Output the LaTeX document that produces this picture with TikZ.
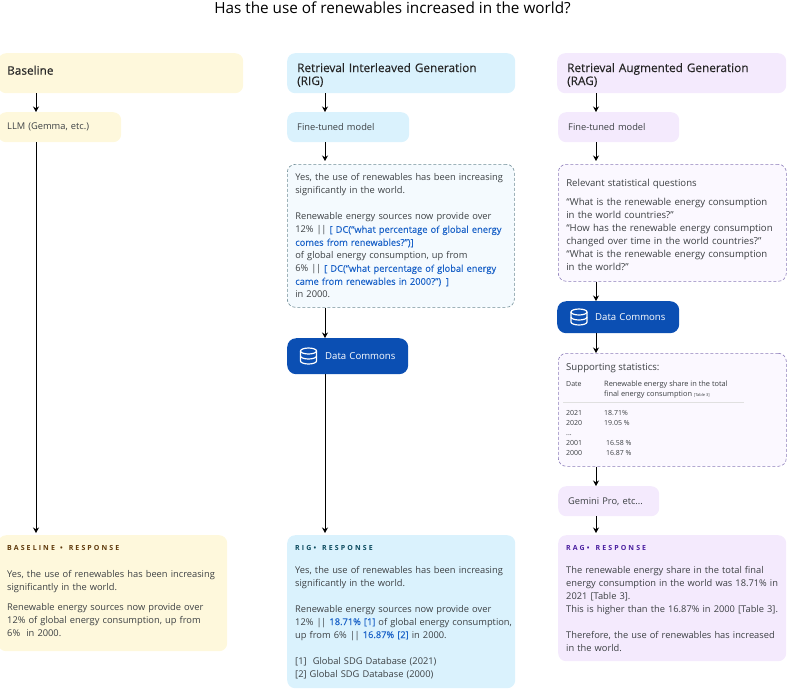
\documentclass[tikz,border=0pt]{standalone}
\usepackage{fontspec}
\usetikzlibrary{arrows.meta}
\setmainfont{Open Sans}
\newfontfamily\tagfont[LetterSpace=30]{Open Sans}
\newfontfamily\heavyfont[FakeBold=0.25]{Open Sans}
\definecolor{inkgrey}{HTML}{3C4043}
\definecolor{dcblue}{HTML}{1A62C8}
\definecolor{dcfill}{HTML}{0B4FB3}
\definecolor{yellowbg}{HTML}{FEF8DC}
\definecolor{bluebg}{HTML}{DAF2FD}
\definecolor{bluepale}{HTML}{F4FAFE}
\definecolor{bluedash}{HTML}{6F8C96}
\definecolor{purplebg}{HTML}{F4EAFD}
\definecolor{purplepale}{HTML}{FBF8FF}
\definecolor{purpledash}{HTML}{8C7DBA}
\definecolor{yellowtag}{HTML}{5F3A0C}
\definecolor{bluetag}{HTML}{0B4A5E}
\definecolor{purpletag}{HTML}{4A1FA0}
\newcommand{\dc}[1]{\textcolor{dcblue}{\heavyfont #1}}
\newcommand{\bars}{|\kern-0.5pt|}
\newcommand{\lift}[1]{\rule[-#1pt]{0pt}{#1pt}}
\newcommand{\sink}[1]{\rule{0pt}{#1pt}}
\newcommand{\tagline}[2]{{\tagfont\fontsize{7}{13}\selectfont\bfseries\textcolor{#1}{#2}}}
\begin{document}
\begin{tikzpicture}[x=1pt,y=-1pt]
\tikzstyle{bubble}=[anchor=north west,rounded corners=8,inner ysep=0,inner xsep=8,align=left,
    text=inkgrey,font=\fontsize{9.3}{13}\selectfont]
\tikzstyle{head}=[bubble,inner xsep=10,text=black!85,font=\fontsize{11.8}{13}\selectfont\heavyfont]
\tikzstyle{model}=[bubble,inner xsep=10]
\tikzstyle{dashbox}=[bubble,draw,dashed,line width=0.6,dash pattern=on 3pt off 2pt]
\tikzstyle{store}=[bubble,fill=dcfill,text=white,rounded corners=9,font=\fontsize{9.6}{13}\selectfont]
\tikzstyle{link}=[-{Stealth[length=5.5pt,width=6pt]},line width=1,black]
\tikzstyle{small}=[anchor=north west,inner sep=0,align=left,text=inkgrey,font=\fontsize{7}{10}\selectfont]
\tikzset{dbicon/.pic={
    \draw [white,line width=1.2] (0,-5) ellipse (8 and 3);
    \draw [white,line width=1.2] (-8,-5) -- (-8,5) arc (180:0:8 and 3) -- (8,-5);
    \draw [white,line width=1.2] (-8,0) arc (180:0:8 and 3);
}}
\useasboundingbox (0,0) rectangle (791,694);
\coordinate (basex) at (36,0);
\coordinate (rigx) at (325,0);
\coordinate (ragx) at (596,0);

\node (title) at (392.5,8) {\fontsize{15.3}{18}\selectfont Has the use of renewables increased in the world?};

% baseline column
\node [head,fill=yellowbg,text width=227,minimum height=40,inner xsep=9] (basehead) at (-2,53) {Baseline\lift{6}};
\node [model,fill=yellowbg,text width=105,minimum height=30,inner xsep=9] (basellm) at (-2,112) {LLM (Gemma, etc.)};
\node [bubble,fill=yellowbg,text width=211,minimum height=116,inner xsep=9] (baseresp) at (-2,535) {\tagline{yellowtag}{BASELINE\hspace{2pt} •\hspace{3pt} RESPONSE}\\[14pt]
    Yes, the use of renewables has been increasing\\
    significantly in the world.\\[6.7pt]
    Renewable energy sources now provide over\\
    12\% of global energy consumption, up from\\
    6\%~~in 2000.\lift{5}};

% rig column
\node [head,fill=bluebg,text width=208,minimum height=40] (righead) at (287,53) {\sink{12.5}Retrieval Interleaved Generation\\(RIG)};
\node [model,fill=bluebg,text width=102,minimum height=30] (rigmodel) at (287,112) {Fine-tuned model};
\node [dashbox,draw=bluedash,fill=bluepale,text width=211,minimum height=143] (rigdraft) at (287,164) {Yes, the use of renewables has been increasing\\
    significantly in the world.\\[13pt]
    Renewable energy sources now provide over\\
    \mbox{12\% \bars{} \dc{[ DC(“what percentage of global energy}}\\
    \dc{comes from renewables?”)]}\\
    of global energy consumption, up from\\
    \mbox{6\% \bars{} \dc{[ DC(“what percentage of global energy}}\\
    \dc{came from renewables in 2000?”) ]}\\
    in 2000.};
\node [store,text width=105,minimum height=36] (rigdc) at (287,338) {\hspace*{30pt}Data Commons};
\pic at (308.5,356) {dbicon};
\node [bubble,fill=bluebg,text width=212,minimum height=153] (rigresp) at (287,535) {\tagline{bluetag}{RIG•\hspace{3pt} RESPONSE}\\[10pt]
    Yes, the use of renewables has been increasing\\
    significantly in the world.\\[13pt]
    Renewable energy sources now provide over\\
    \mbox{12\% \bars{} \dc{18.71\% [1]} of global energy consumption,}\\
    up from 6\% \bars{} \dc{16.87\% [2]} in 2000.\\[13pt]
    {[1]}~~Global SDG Database (2021)\\
    {[2]} Global SDG Database (2000)};

% rag column
\node [head,fill=purplebg,text width=209,minimum height=40] (raghead) at (557,53) {\sink{12.5}Retrieval Augmented Generation\\(RAG)};
\node [model,fill=purplebg,text width=101,minimum height=30] (ragmodel) at (558,112) {Fine-tuned model};
\node [dashbox,draw=purpledash,fill=purplepale,text width=212,minimum height=117,font=\fontsize{9.6}{13}\selectfont] (ragquest) at (558,164) {\sink{12}Relevant statistical questions\\[5.5pt]
    “What is the renewable energy consumption\\
    in the world countries?”\\
    “How has the renewable energy consumption\\
    changed over time in the world countries?”\\
    “What is the renewable energy consumption\\
    in the world?”};
\node [store,text width=106,minimum height=32] (ragdc) at (557,301) {\hspace*{30pt}Data Commons};
\pic at (579,317) {dbicon};
\node [dashbox,draw=purpledash,fill=purplepale,text width=212,minimum height=113] (ragstats) at (558,353) {};
\node [anchor=north west,inner sep=0,text=inkgrey,font=\fontsize{9.6}{13}\selectfont] (statstitle) at (566,363) {Supporting statistics:};
\node [small] (statdate) at (566,381) {Date};
\node [small,font=\fontsize{7.4}{10}\selectfont] (stathead) at (604,381) {Renewable energy share in the total\\final energy consumption {\fontsize{4}{10}\selectfont [Table 3]}};
\node [small] (statyears) at (566,410.5) {2021\\2020\\...\\2001\\2000};
\node [small] (statvalues) at (604,410.5) {18.71\%\\19.05 \%\\\mbox{}\\~16.58 \%\\~16.87 \%};
\coordinate (ruleleft) at (563,402.5);
\coordinate (ruleright) at (744,402.5);
\draw [black!12,line width=0.8] (ruleleft) -- (ruleright);
\node [model,fill=purplebg,text width=81,minimum height=30] (raggemini) at (558,486) {Gemini Pro, etc...};
\node [bubble,fill=purplebg,text width=212,minimum height=126] (ragresp) at (558,535) {\tagline{purpletag}{RAG•\hspace{3pt} RESPONSE}\\[10pt]
    The renewable energy share in the total final\\
    energy consumption in the world was 18.71\% in\\
    2021 [Table 3].\\
    This is higher than the 16.87\% in 2000 [Table 3].\\[13pt]
    Therefore, the use of renewables has increased\\
    in the world.};

\draw [link] (basehead.south -| basex) to (basellm.north -| basex);
\draw [link,shorten >=2] (basellm.south -| basex) to (baseresp.north -| basex);
\draw [link] (righead.south -| rigx) to (rigmodel.north -| rigx);
\draw [link,shorten >=3] (rigmodel.south -| rigx) to (rigdraft.north -| rigx);
\draw [link] (rigdraft.south -| rigx) to (rigdc.north -| rigx);
\draw [link,shorten >=2] (rigdc.south -| rigx) to (rigresp.north -| rigx);
\draw [link] (raghead.south -| ragx) to (ragmodel.north -| ragx);
\draw [link,shorten >=3] (ragmodel.south -| ragx) to (ragquest.north -| ragx);
\draw [link] (ragquest.south -| ragx) to (ragdc.north -| ragx);
\draw [link] (ragdc.south -| ragx) to (ragstats.north -| ragx);
\draw [link] (ragstats.south -| ragx) to (raggemini.north -| ragx);
\draw [link,shorten >=2] (raggemini.south -| ragx) to (ragresp.north -| ragx);
\end{tikzpicture}
\end{document}
